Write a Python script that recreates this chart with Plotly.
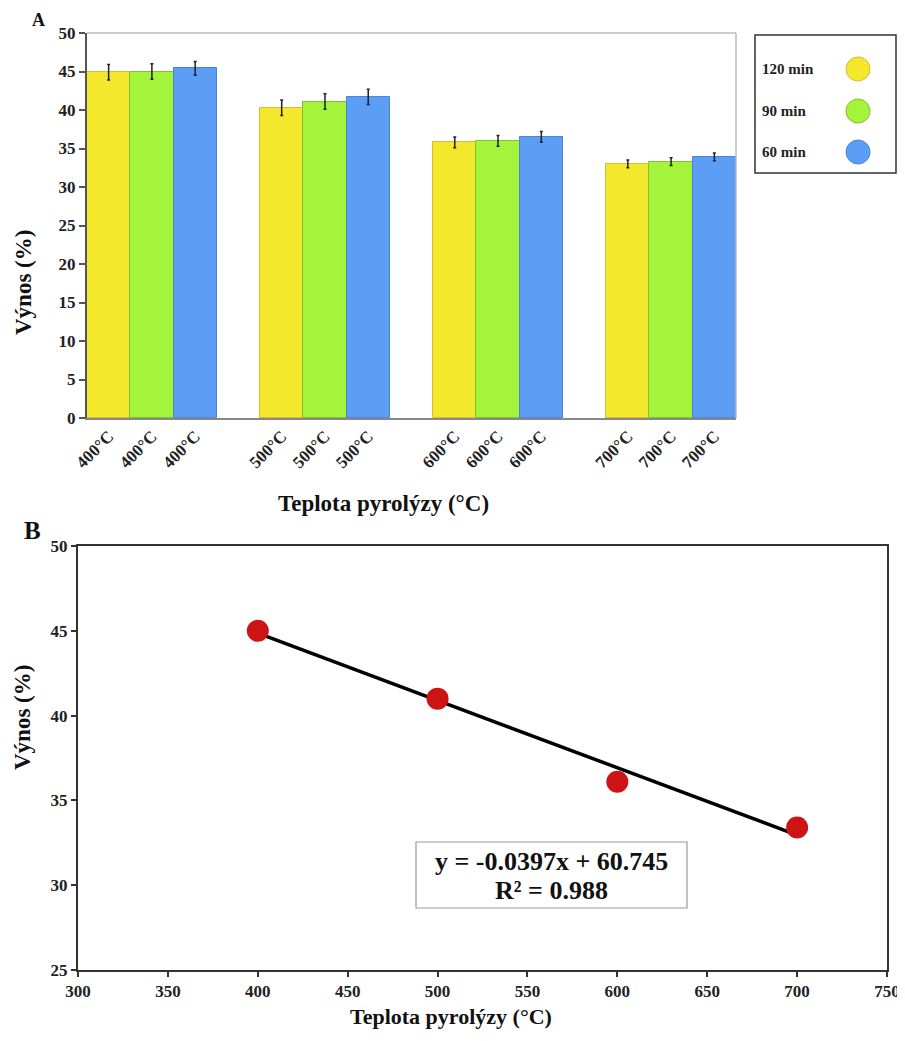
import plotly.graph_objects as go

# ---------------- data ----------------
temps = ["400°C", "500°C", "600°C", "700°C"]
series_names = ["120 min", "90 min", "60 min"]
yield_120 = [44.9, 40.3, 35.8, 33.0]
yield_90 = [45.0, 41.1, 36.0, 33.3]
yield_60 = [45.4, 41.7, 36.5, 33.9]
err_120 = [1.0, 1.0, 0.7, 0.5]
err_90 = [1.0, 1.0, 0.7, 0.5]
err_60 = [0.9, 1.0, 0.7, 0.5]
colors = ["#F4E82C", "#A4F43C", "#5C9DF6"]
edge_colors = ["#D9B83A", "#7FC22E", "#4A84D8"]

scatter_x = [400, 500, 600, 700]
scatter_y = [45.0, 41.0, 36.1, 33.4]
slope = -0.0397
intercept = 60.745
r2 = 0.988

OFF = 8  # page body margin
W, H = 905 - OFF, 1041 - 2 * OFF
FONT = "Liberation Serif"


def px(x):
    return (x - OFF) / W


def py(y):
    return 1 - (y - OFF) / H


fig = go.Figure()

# ---------------- chart A (bars) ----------------
all_series = [yield_120, yield_90, yield_60]
all_err = [err_120, err_90, err_60]
tick_pos = []
tick_txt = []
for j, (vals, errs) in enumerate(zip(all_series, all_err)):
    xs = [4 * i + j for i in range(len(temps))]
    fig.add_trace(go.Bar(
        x=xs, y=vals, width=1.0,
        marker=dict(color=colors[j], line=dict(color=edge_colors[j], width=1)),
        error_y=dict(type="data", array=errs, color="#222", thickness=1.5, width=1.5),
        name=series_names[j], showlegend=False,
        xaxis="x", yaxis="y",
    ))
for i, t in enumerate(temps):
    for j in range(3):
        tick_pos.append(4 * i + j)
        tick_txt.append(t)

# ---------------- chart B (scatter + trend) ----------------
x_line = [scatter_x[0], scatter_x[-1]]
y_line = [slope * x + intercept for x in x_line]
fig.add_trace(go.Scatter(
    x=x_line, y=y_line, mode="lines",
    line=dict(color="black", width=3.5), showlegend=False,
    xaxis="x2", yaxis="y2",
))
fig.add_trace(go.Scatter(
    x=scatter_x, y=scatter_y, mode="markers",
    marker=dict(color="#CC1414", size=22, line=dict(width=0)),
    showlegend=False, xaxis="x2", yaxis="y2",
))

tickfont = dict(family=FONT, size=17, color="#222", weight="bold")

fig.update_layout(
    width=W, height=H,
    margin=dict(l=0, r=0, t=0, b=0),
    paper_bgcolor="white", plot_bgcolor="white",
    bargap=0, barmode="overlay",
    xaxis=dict(
        domain=[px(87), px(736)], range=[-0.5, 14.5],
        tickvals=tick_pos, ticktext=tick_txt, tickangle=-45,
        ticks="", showgrid=False, zeroline=False,
        showline=True, linecolor="#888", linewidth=1.5,
        tickfont=dict(family=FONT, size=17, color="#222", weight="bold"),
        anchor="y", automargin=False,
    ),
    xaxis3=dict(
        domain=[px(87), px(736)], range=[-0.5, 14.5],
        tickvals=[k - 0.5 for k in range(16)], ticktext=[""] * 16,
        ticks="outside", ticklen=5, tickcolor="#666", tickwidth=1.5,
        showgrid=False, zeroline=False, showline=False,
        overlaying="x", anchor="y", automargin=False,
    ),
    yaxis=dict(
        domain=[py(418), py(33)], range=[0, 50],
        tickvals=list(range(0, 51, 5)), ticks="outside", ticklen=6,
        tickcolor="#555", tickwidth=1.5,
        showgrid=False, zeroline=False,
        showline=True, linecolor="#555", linewidth=2,
        tickfont=tickfont, anchor="x", automargin=False,
    ),
    xaxis2=dict(
        domain=[px(78), px(887)], range=[300, 750],
        tickvals=list(range(300, 751, 50)), ticks="outside", ticklen=5,
        tickcolor="#333", tickwidth=1.5,
        showgrid=False, zeroline=False,
        showline=True, linecolor="#333", linewidth=2, mirror=True,
        tickfont=tickfont, anchor="y2", automargin=False,
        ticklabeloverflow="allow",
    ),
    yaxis2=dict(
        domain=[py(970), py(546)], range=[25, 50],
        tickvals=list(range(25, 51, 5)), ticks="outside", ticklen=5,
        tickcolor="#333", tickwidth=1.5,
        showgrid=False, zeroline=False,
        showline=True, linecolor="#333", linewidth=2, mirror=True,
        tickfont=tickfont, anchor="x2", automargin=False,
    ),
)

# top/right border of chart A
fig.add_shape(type="line", xref="paper", yref="paper",
              x0=px(87), x1=px(736), y0=py(33), y1=py(33),
              line=dict(color="#BBB", width=1.5))
fig.add_shape(type="line", xref="paper", yref="paper",
              x0=px(736), x1=px(736), y0=py(33), y1=py(418),
              line=dict(color="#BBB", width=1.5))

# custom legend for chart A
fig.add_shape(type="rect", xref="paper", yref="paper",
              x0=px(755), x1=px(896), y0=py(173), y1=py(35),
              line=dict(color="#333", width=1.5), fillcolor="white")
leg_y = [69, 111, 152]
for j, name in enumerate(series_names):
    fig.add_annotation(x=px(760), y=py(leg_y[j]), xref="paper", yref="paper",
                       text=name, showarrow=False, xanchor="left", yanchor="middle",
                       font=dict(family=FONT, size=15, color="#222", weight="bold"))
    r = 12
    cx = 858
    fig.add_shape(type="circle", xref="paper", yref="paper",
                  x0=px(cx - r), x1=px(cx + r), y0=py(leg_y[j] + r), y1=py(leg_y[j] - r),
                  fillcolor=colors[j], line=dict(color=edge_colors[j], width=1))

# axis titles chart A
fig.add_annotation(x=px(9), y=py(228), xref="paper", yref="paper",
                   text="Výnos (%)", showarrow=False, textangle=-90,
                   font=dict(family=FONT, size=23, color="#111", weight="bold"))
fig.add_annotation(x=px(383), y=py(503), xref="paper", yref="paper",
                   text="Teplota pyrolýzy (°C)", showarrow=False, yanchor="middle",
                   font=dict(family=FONT, size=23, color="#111", weight="bold"))
fig.add_annotation(x=px(30), y=py(OFF), xref="paper", yref="paper", yanchor="top",
                   text="A", showarrow=False,
                   font=dict(family=FONT, size=18, color="#111", weight="bold"))

# chart B labels
fig.add_annotation(x=px(22), y=py(530), xref="paper", yref="paper",
                   text="B", showarrow=False,
                   font=dict(family=FONT, size=25, color="#111", weight="bold"))
fig.add_annotation(x=px(8), y=py(772), xref="paper", yref="paper",
                   text="Výnos (%)", showarrow=False, textangle=-90,
                   font=dict(family=FONT, size=23, color="#111", weight="bold"))
fig.add_annotation(x=px(451), y=py(1031), xref="paper", yref="paper",
                   text="Teplota pyrolýzy (°C)", showarrow=False, yanchor="bottom",
                   font=dict(family=FONT, size=22, color="#111", weight="bold"))

# regression equation box
fig.add_shape(type="rect", xref="paper", yref="paper",
              x0=px(416), x1=px(687), y0=py(908), y1=py(842),
              line=dict(color="#999", width=1.2), fillcolor="white", layer="below")
fig.add_annotation(x=px(551), y=py(861), xref="paper", yref="paper",
                   text=f"y = {slope}x + {intercept}", showarrow=False,
                   yanchor="middle",
                   font=dict(family=FONT, size=26, color="#111", weight="bold"))
fig.add_annotation(x=px(551), y=py(890), xref="paper", yref="paper",
                   text=f"R² = {r2}", showarrow=False,
                   yanchor="middle",
                   font=dict(family=FONT, size=26, color="#111", weight="bold"))

fig.write_html("out.html")
